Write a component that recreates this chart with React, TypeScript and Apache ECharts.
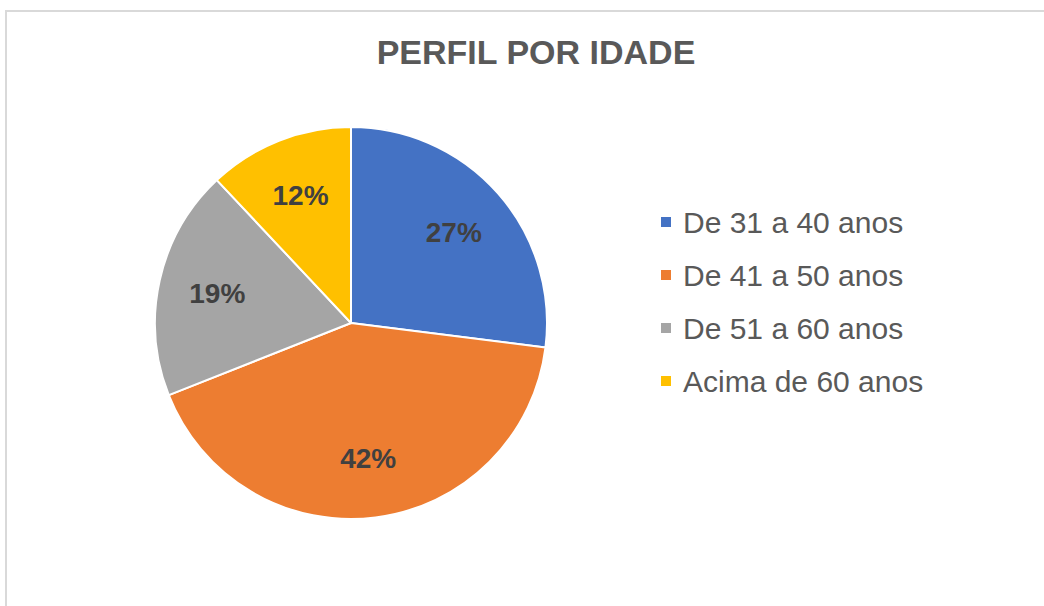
import React, { useEffect, useRef } from "react";
import * as echarts from "echarts";

const categories = ["De 31 a 40 anos", "De 41 a 50 anos", "De 51 a 60 anos", "Acima de 60 anos"];
const values = [27, 42, 19, 12];
const colors = ["#4472C4", "#ED7D31", "#A5A5A5", "#FFC000"];
const titleText = "PERFIL POR IDADE";

export default function App() {
  const ref = useRef<HTMLDivElement>(null);
  useEffect(() => {
    document.body.style.margin = "0";
    const chart = echarts.init(ref.current!, null, { renderer: "svg" });
    const data = categories.map((name, i) => ({ name, value: values[i] }));
    const font = "'Liberation Sans', Arial, sans-serif";
    chart.setOption({
      animation: false,
      color: colors,
      title: {
        text: titleText,
        left: 531,
        top: 30,
        textAlign: "center",
        textStyle: { fontFamily: font, fontSize: 34, fontWeight: "bold", color: "#595959", lineHeight: 34 },
      },
      legend: {
        orient: "vertical",
        left: 654,
        top: 202,
        icon: "rect",
        itemWidth: 12,
        itemHeight: 12,
        itemGap: 23,
        data: categories,
        textStyle: { fontFamily: font, fontSize: 30, color: "#595959", lineHeight: 30, padding: [0, 0, 0, 6] },
      },
      graphic: [
        {
          type: "rect",
          shape: { x: 6, y: 11, width: 1100, height: 700 },
          style: { fill: "none", stroke: "#d9d9d9", lineWidth: 2 },
          silent: true,
        },
      ],
      series: [
        {
          type: "pie",
          center: [351, 323],
          radius: [0, 196],
          startAngle: 90,
          clockwise: true,
          data,
          label: { show: false },
          labelLine: { show: false },
          itemStyle: { borderColor: "#ffffff", borderWidth: 2 },
          emphasis: { disabled: true },
        },
        {
          type: "pie",
          center: [351, 323],
          radius: [72, 196],
          startAngle: 90,
          clockwise: true,
          silent: true,
          data,
          itemStyle: { color: "transparent", borderWidth: 0 },
          label: {
            show: true,
            position: "inside",
            formatter: "{c}%",
            fontFamily: font,
            fontSize: 28,
            fontWeight: "bold",
            color: "#404040",
          },
          labelLine: { show: false },
          emphasis: { disabled: true },
        },
      ],
    });
    return () => chart.dispose();
  }, []);
  return <div ref={ref} style={{ width: 1044, height: 606 }} />;
}
